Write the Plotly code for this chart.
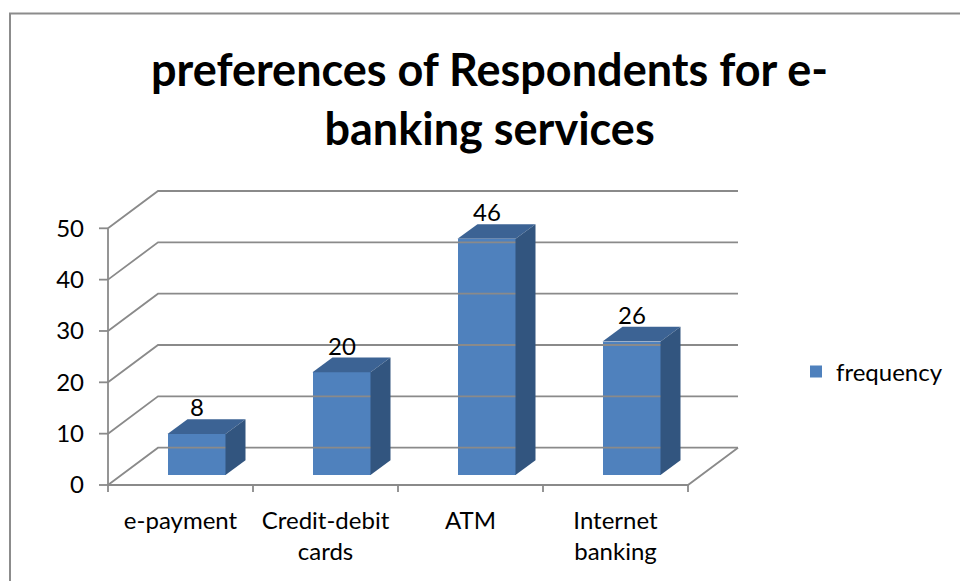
import plotly.graph_objects as go

# ---- chart data -------------------------------------------------------------
categories = ["e-payment", "Credit-debit<br>cards", "ATM", "Internet<br>banking"]
frequency = [8, 20, 46, 26]
y_ticks = [0, 10, 20, 30, 40, 50]
series_name = "frequency"
title_text = "preferences of Respondents for e-<br>banking services"

# ---- pseudo-3D geometry (pixel sizes turned into data units) ----------------
W, H = 960, 581
PX_X = 145.0          # pixels per category slot
PX_Y = 5.134          # pixels per value unit
L_PX, R_PX = 95, 760  # plot domain, left / right pixel
T_PX, B_PX = 170, 500 # plot domain, top / bottom pixel
ZERO_X_PX, ZERO_Y_PX = 108, 485

def dx(px):
    return px / PX_X

def dy(px):
    return px / PX_Y

n = len(categories)
x_range = [dx(L_PX - ZERO_X_PX), dx(R_PX - ZERO_X_PX)]
y_range = [-dy(B_PX - ZERO_Y_PX), dy(ZERO_Y_PX - T_PX)]

WALL_X, WALL_Y = dx(50), dy(37.3)     # depth of the floor / back wall
BAR_SX, BAR_SY = dx(16), dy(10)       # bar row pushed back from the front edge
BAR_DX, BAR_DY = dx(20), dy(14.7)     # depth of each bar
BAR_W = dx(58)

GRID = "#8a8a8a"
FRONT = "#4F81BD"
TOP = "#3C6394"
SIDE = "#32557F"

fig = go.Figure()

# walls, floor, axis lines and tick marks
gx, gy = [], []
for v in y_ticks:
    gx += [0, WALL_X, n + WALL_X, None]
    gy += [v, v + WALL_Y, v + WALL_Y, None]
gx += [0, n, n + WALL_X, None]
gy += [0, 0, WALL_Y, None]
gx += [0, 0, None]
gy += [0, max(y_ticks), None]
for v in y_ticks:
    gx += [-dx(9), 0, None]
    gy += [v, v, None]
for k in range(n + 1):
    gx += [k, k, None]
    gy += [0, -dy(7), None]
fig.add_trace(go.Scatter(x=gx, y=gy, mode="lines", line=dict(color=GRID, width=1.8),
                         hoverinfo="skip", showlegend=False))

centers = [i + 0.5 + BAR_SX for i in range(n)]

# top and side faces of each bar
for c, v in zip(centers, frequency):
    xl, xr = c - BAR_W / 2, c + BAR_W / 2
    top = BAR_SY + v
    fig.add_trace(go.Scatter(
        x=[xl, xr, xr + BAR_DX, xl + BAR_DX, xl],
        y=[top, top, top + BAR_DY, top + BAR_DY, top],
        fill="toself", fillcolor=TOP, mode="lines", line=dict(width=0, color=TOP),
        hoverinfo="skip", showlegend=False))
    fig.add_trace(go.Scatter(
        x=[xr, xr, xr + BAR_DX, xr + BAR_DX, xr],
        y=[BAR_SY, top, top + BAR_DY, BAR_SY + BAR_DY, BAR_SY],
        fill="toself", fillcolor=SIDE, mode="lines", line=dict(width=0, color=SIDE),
        hoverinfo="skip", showlegend=False))

# front faces
fig.add_trace(go.Bar(
    x=centers, y=frequency, base=[BAR_SY] * n, width=BAR_W,
    marker=dict(color=FRONT, line=dict(width=0)), name=series_name))

# value labels above the bars
for c, v in zip(centers, frequency):
    fig.add_annotation(x=c, y=BAR_SY + v, text=str(v), showarrow=False,
                       yshift=27, yanchor="middle",
                       font=dict(family="Lato", size=24, color="#000000"))

# outer chart border
def paper_x(px):
    return (px - L_PX) / (R_PX - L_PX)

def paper_y(py):
    return (B_PX - py) / (B_PX - T_PX)

fig.add_shape(type="rect", xref="paper", yref="paper",
              x0=paper_x(10), x1=paper_x(975), y0=paper_y(13.5), y1=paper_y(600),
              line=dict(color="#8c8c8c", width=2), fillcolor="rgba(0,0,0,0)")

fig.update_layout(
    width=W, height=H,
    margin=dict(l=L_PX, r=W - R_PX, t=T_PX, b=H - B_PX, autoexpand=False),
    paper_bgcolor="#ffffff", plot_bgcolor="rgba(0,0,0,0)",
    font=dict(family="Lato", color="#000000"),
    title=dict(text=title_text, x=0.51, xanchor="center", y=1 - 86 / H, yanchor="top",
               yref="container",
               font=dict(family="Lato", size=45, color="#000000", weight="bold")),
    xaxis=dict(range=x_range, showgrid=False, zeroline=False, showline=False,
               tickmode="array", tickvals=[i + 0.5 for i in range(n)], ticktext=categories,
               ticks="", ticklabelstandoff=4, tickfont=dict(size=24, color="#000000")),
    yaxis=dict(range=y_range, showgrid=False, zeroline=False, showline=False,
               tickmode="array", tickvals=y_ticks, ticktext=[str(v) for v in y_ticks],
               ticks="", ticklabelstandoff=10, tickfont=dict(size=24, color="#000000")),
    legend=dict(x=paper_x(796), y=paper_y(372), xanchor="left", yanchor="middle",
                font=dict(size=24, color="#000000"), bgcolor="rgba(0,0,0,0)"),
    bargap=0,
)

fig.write_html("out.html")
